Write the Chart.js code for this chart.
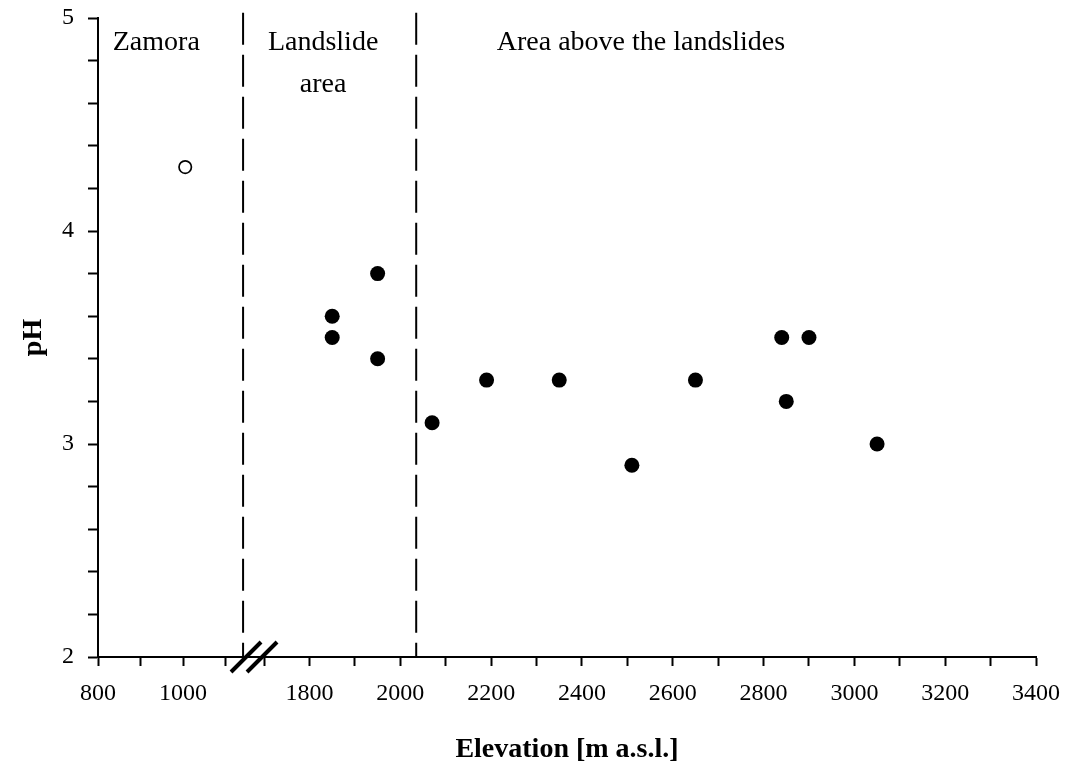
<!DOCTYPE html>
<html>
<head>
<meta charset="utf-8">
<title>pH vs elevation</title>
<script src="https://cdn.jsdelivr.net/npm/chart.js@4.4.1/dist/chart.umd.min.js"></script>
<style>
    html, body { margin: 0; padding: 0; background: #fff; }
    #wrap { width: 1065px; height: 767px; }
</style>
</head>
<body>
<div id="wrap"><canvas id="phChart" width="1065" height="767"></canvas></div>
<script>
// measured values (elevation in m a.s.l., pH)
const filledElev = [1850, 1850, 1950, 1950, 2070, 2190, 2350, 2510, 2650, 2840, 2850, 2900, 3050];
const filledPH = [3.6, 3.5, 3.8, 3.4, 3.1, 3.3, 3.3, 2.9, 3.3, 3.5, 3.2, 3.5, 3.0];
const openElev = [1005];
const openPH = [4.3];

// x axis ticks (broken axis: 800-1100 | 1700-3400)
const xTickElev = [800, 900, 1000, 1100,
    1700, 1800, 1900, 2000, 2100, 2200, 2300, 2400, 2500, 2600,
    2700, 2800, 2900, 3000, 3100, 3200, 3300, 3400];
const yTickLabels = ['2', '3', '4', '5'];

// zones
const zoneBounds = [1141, 2035];
const zoneNames = [['Zamora'], ['Landslide', 'area'], ['Area above the landslides']];
const zoneNameElev = [937, 1830, 2530];

// broken axis: left part is a bit compressed, right part 1 unit = 100 m
const LEFT_K = 0.937;
const RIGHT_ZERO = 4.658; // axis unit of 1800 m
const X_MAX = RIGHT_ZERO + 16;
const BREAK_U = 3.26;

function toAxis(elev) {
    if (elev < 1400) return (elev - 800) / 100 * LEFT_K;
    return RIGHT_ZERO + (elev - 1800) / 100;
}

const SERIF = '"Liberation Serif", "Times New Roman", serif';

const extras = {
    id: 'extras',
    afterDraw(chart) {
        const ctx = chart.ctx;
        const xs = chart.scales.x;
        const ys = chart.scales.y;
        ctx.save();
        // zone names
        ctx.fillStyle = '#000';
        ctx.font = '28px ' + SERIF;
        ctx.textAlign = 'center';
        ctx.textBaseline = 'alphabetic';
        zoneNames.forEach((lines, i) => {
            const px = xs.getPixelForValue(toAxis(zoneNameElev[i]));
            lines.forEach((t, j) => {
                ctx.fillText(t, px, ys.getPixelForValue(4.85) + j * 42);
            });
        });
        // axis break marks
        const bx = xs.getPixelForValue(BREAK_U);
        const by = ys.bottom;
        ctx.strokeStyle = '#000';
        ctx.lineWidth = 4;
        [0, 16].forEach(off => {
            ctx.beginPath();
            ctx.moveTo(bx + off - 15, by + 15);
            ctx.lineTo(bx + off + 15, by - 15);
            ctx.stroke();
        });
        ctx.restore();
    }
};

const boundaryData = zoneBounds.map(e => ({
    type: 'scatter',
    data: [{ x: toAxis(e), y: 5.025 }, { x: toAxis(e), y: 2 }],
    showLine: true,
    borderColor: '#000',
    borderWidth: 2,
    borderDash: [32, 10],
    pointRadius: 0,
    clip: false
}));

new Chart(document.getElementById('phChart').getContext('2d'), {
    type: 'scatter',
    data: {
        datasets: [
            {
                label: 'Zamora',
                data: openElev.map((e, i) => ({ x: toAxis(e), y: openPH[i] })),
                pointRadius: 6.2,
                pointBackgroundColor: '#fff',
                pointBorderColor: '#000',
                pointBorderWidth: 1.7
            },
            {
                label: 'Landslides',
                data: filledElev.map((e, i) => ({ x: toAxis(e), y: filledPH[i] })),
                pointRadius: 7.5,
                pointBackgroundColor: '#000',
                pointBorderColor: '#000',
                pointBorderWidth: 0
            },
            ...boundaryData
        ]
    },
    options: {
        responsive: false,
        devicePixelRatio: 1,
        animation: false,
        layout: {
            padding: { top: 18, right: 29, left: 0, bottom: 0 }
        },
        plugins: {
            legend: { display: false },
            tooltip: { enabled: false }
        },
        scales: {
            x: {
                type: 'linear',
                min: 0,
                max: X_MAX,
                afterFit: function (scale) {
                    scale.height = 110;
                    scale.paddingLeft = 0;
                    scale.paddingRight = 0;
                },
                afterBuildTicks: function (scale) {
                    scale.ticks = xTickElev.map(e => ({ value: toAxis(e) }));
                },
                border: { color: '#000', width: 2 },
                grid: {
                    drawOnChartArea: false,
                    drawTicks: true,
                    tickLength: 9,
                    tickColor: '#000',
                    tickWidth: 2
                },
                ticks: {
                    autoSkip: false,
                    maxRotation: 0,
                    padding: 13,
                    color: '#000',
                    font: { family: SERIF, size: 24 },
                    callback: function (value, index) {
                        const e = xTickElev[index];
                        return e % 200 === 0 ? String(e) : '';
                    }
                },
                title: {
                    display: true,
                    text: 'Elevation [m a.s.l.]',
                    color: '#000',
                    font: { family: SERIF, size: 28, weight: 'bold' },
                    padding: { top: 0, bottom: 0 }
                }
            },
            y: {
                min: 2,
                max: 5,
                afterFit: function (scale) {
                    scale.width = 98;
                    scale.paddingTop = 0;
                    scale.paddingBottom = 0;
                },
                border: { color: '#000', width: 2 },
                grid: {
                    drawOnChartArea: false,
                    drawTicks: true,
                    tickLength: 10,
                    tickColor: '#000',
                    tickWidth: 2
                },
                ticks: {
                    stepSize: 0.2,
                    padding: 14,
                    color: '#000',
                    font: { family: SERIF, size: 24 },
                    callback: function (value) {
                        const r = Math.round(value * 1000) / 1000;
                        return Number.isInteger(r) ? yTickLabels[r - 2] : '';
                    }
                },
                title: {
                    display: true,
                    text: 'pH',
                    color: '#000',
                    font: { family: SERIF, size: 28, weight: 'bold' },
                    padding: { top: 17, bottom: 0 }
                }
            }
        }
    },
    plugins: [extras]
});
</script>
</body>
</html>
